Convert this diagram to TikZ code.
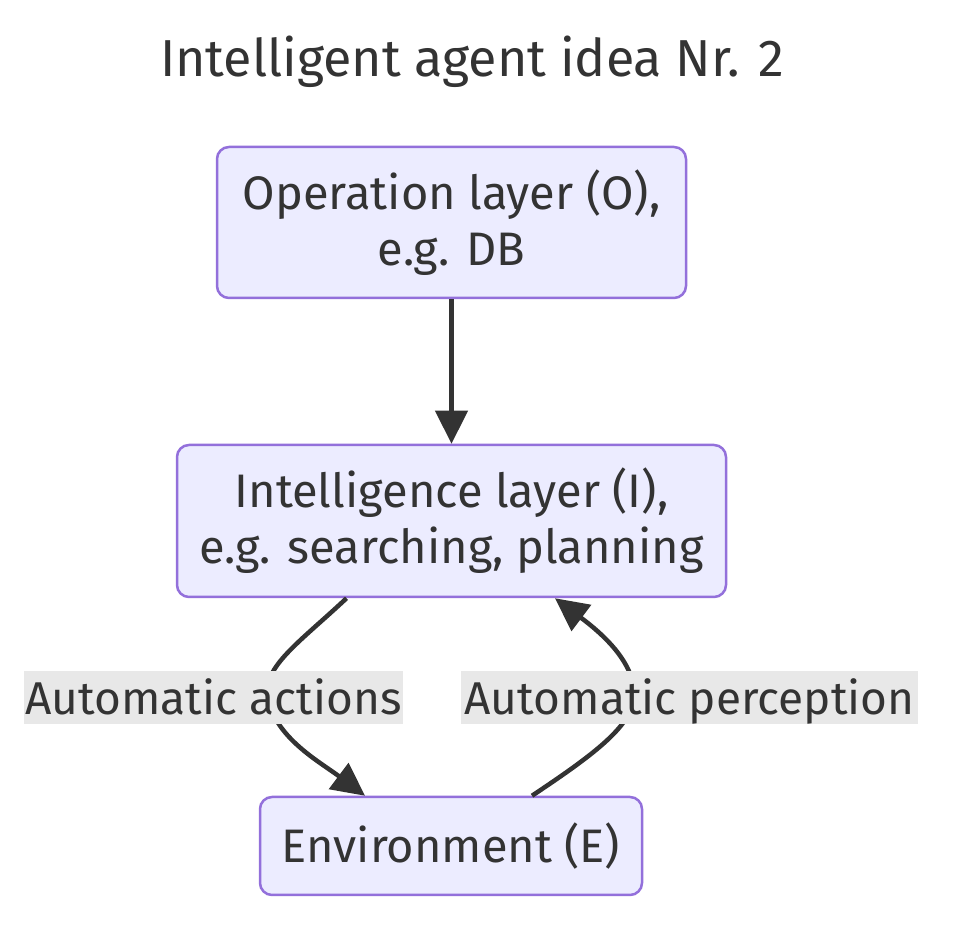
\documentclass[tikz,border=0pt]{standalone}
\usepackage{fontspec}
\setmainfont{Fira Sans}
\usetikzlibrary{arrows.meta,positioning}

\definecolor{nodefill}{HTML}{ECECFF}
\definecolor{nodeline}{HTML}{9370DB}
\definecolor{ink}{HTML}{333333}
\definecolor{labelbg}{HTML}{E8E8E8}

\begin{document}
\begin{tikzpicture}[x=1pt, y=1pt,
    layer/.style={rectangle, rounded corners=12pt, draw=nodeline, line width=2.5pt, fill=nodefill, text=ink, font=\fontsize{47}{56}\selectfont, align=center, inner sep=0pt},
    edgelabel/.style={rectangle, fill=labelbg, text=ink, font=\fontsize{46}{50}\selectfont, inner sep=0pt, text height=44pt, text depth=9pt},
    arrow/.style={-{Triangle[length=33pt, width=32pt]}, line width=4.5pt, draw=ink}
]
\useasboundingbox (0,0) rectangle (966,942);

% Title
\node at (472,865) [anchor=base, text=ink, font=\fontsize{52}{60}\selectfont] (title) {Intelligent agent idea Nr. 2};

% Layers
\node at (451.5,719.5) [layer, minimum width=469pt, minimum height=151pt] (op) {Operation layer (O),\\e.g. DB};
\node at (451.5,421) [layer, minimum width=549pt, minimum height=152pt] (intel) {Intelligence layer (I),\\e.g. searching, planning};
\node at (451,96) [layer, minimum width=382pt, minimum height=98pt] (env) {Environment (E)};

% Arrows
\draw [arrow] (op) -- (intel);
\draw [arrow] ([xshift=-105pt]intel.south) .. controls (300,300) and (262,275) .. (268,245)
    .. controls (274,205) and (320,180) .. ([xshift=-86pt]env.north);
\draw [arrow] ([xshift=81pt]env.north) .. controls (590,185) and (632,215) .. (634,245)
    .. controls (636,280) and (600,310) .. ([xshift=103.5pt]intel.south);

% Edge labels
\node at (213.5,244.5) [edgelabel, minimum width=379pt] (actions) {Automatic actions};
\node at (689.5,244.5) [edgelabel, minimum width=457pt] (perception) {Automatic perception};

\end{tikzpicture}
\end{document}
